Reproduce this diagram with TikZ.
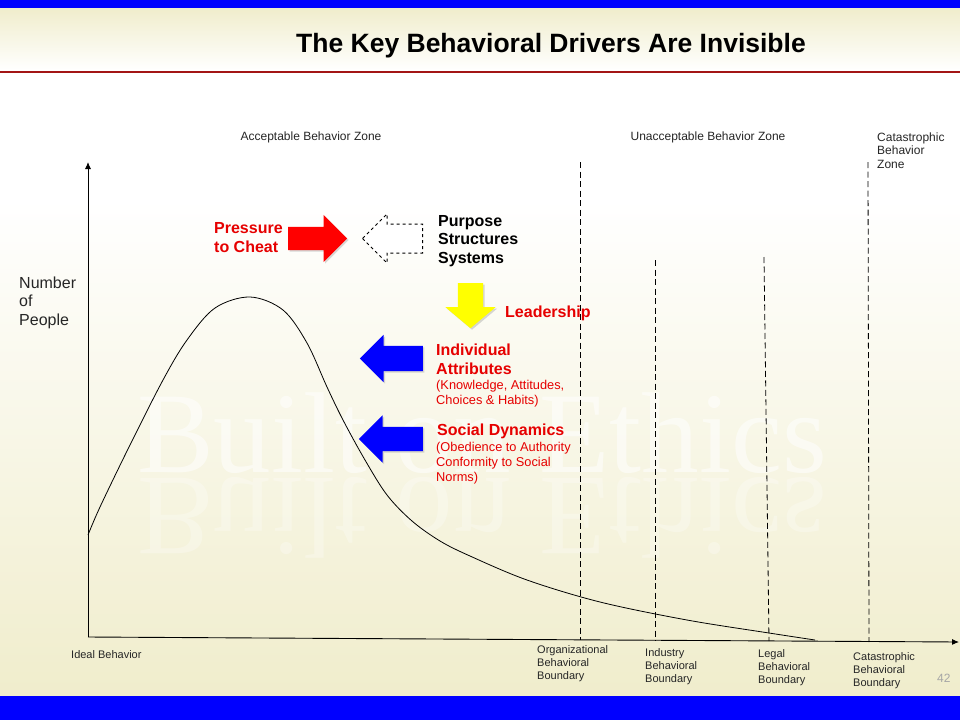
\documentclass[tikz,border=0pt]{standalone}
\usepackage{fontspec}
\setmainfont{Liberation Sans}
\newfontfamily\markfont{Liberation Serif}
\usepackage{graphicx}
\usetikzlibrary{arrows.meta,shapes.arrows,shadows}
\definecolor{SlideBlue}{HTML}{0000FF}
\definecolor{SlideRed}{HTML}{E60000}
\definecolor{SlideRule}{HTML}{A31515}
\definecolor{SlideCream}{HTML}{F0EDCC}
\definecolor{SlideText}{HTML}{262626}
\definecolor{SlideGray}{HTML}{A6A6A6}
\definecolor{SlideYellow}{HTML}{FFFF00}

\begin{document}
\begin{tikzpicture}[
  x=1pt,y=-1pt,>=Latex,
  axis/.style={-{Latex[length=7pt,width=6pt]},line width=0.9pt},
  bound/.style={dash pattern=on 6pt off 3.5pt,line width=0.8pt},
  small/.style={font=\fontsize{11}{13}\selectfont,text=SlideText,
    inner sep=0pt,align=left,anchor=base west},
  zone/.style={small,font=\fontsize{12}{13.5}\selectfont},
  driver/.style={font=\bfseries\fontsize{16}{19}\selectfont,text=SlideRed,
    inner sep=0pt,align=left,anchor=base west},
  detail/.style={driver,font=\fontsize{12.8}{14.6}\selectfont},
  block/.style={single arrow,draw=none,anchor=tail},
  shadowed/.style={block,drop shadow={opacity=0.3,shadow xshift=1.5pt,
    shadow yshift=-1.5pt}}
]
\useasboundingbox (0,0) rectangle (960,720);

% slide background
\fill[SlideBlue] (0,0) rectangle (960,8);
\shade[top color=SlideCream,bottom color=white] (0,8) rectangle (960,70.5);
\fill[SlideRule] (0,70.5) rectangle (960,72.5);
\fill[white] (0,72.5) rectangle (960,200);
\shade[top color=white,bottom color=SlideCream] (0,200) rectangle (960,696);
\fill[SlideBlue] (0,696) rectangle (960,720);

\node[font=\markfont\fontsize{115}{115}\selectfont,text=white,opacity=0.55,
  anchor=base,inner sep=0pt] (mark) at (482,472) {Built on Ethics};
\node[font=\markfont\fontsize{115}{115}\selectfont,text=white,opacity=0.28,
  anchor=base,inner sep=0pt] (markEcho) at (482,478)
  {\scalebox{1}[-1]{Built on Ethics}};

\node[font=\bfseries\fontsize{26.5}{30}\selectfont,anchor=base,inner sep=0pt]
  (title) at (551,52) {The Key Behavioral Drivers Are Invisible};

% axes, boundaries and distribution
\draw[axis] (88,637) -- (88,162);
\draw[axis] (88,637) -- (959,642);
\draw[bound] (580,162) -- (580,640);
\draw[bound] (655,260) -- (655,641);
\draw[bound] (764,257) -- (769,641);
\draw[bound] (868,162) -- (869,642);
\draw[line width=0.8pt] plot[smooth,tension=0.55] coordinates {
  (88,535) (100,507) (129,447) (163,380) (187,340) (215,308) (250,297)
  (283,310) (307,343) (327,387) (343,420) (365,460) (387,495) (412,521)
  (440,541) (470,556) (527,580) (600,602) (687,620) (769,633) (815,640)};

% multi-line labels sit on the baseline of their last line
\node[zone,anchor=base] (accZone) at (311,140) {Acceptable Behavior Zone};
\node[zone,anchor=base] (unaccZone) at (708,140) {Unacceptable Behavior Zone};
\node[zone] (catZone) at (877,168) {Catastrophic\\Behavior\\Zone};
\node[small,font=\fontsize{16}{18.5}\selectfont] (people) at (19,325)
  {Number\\of\\People};
\node[small] (ideal) at (71,658) {Ideal Behavior};
\node[small] (orgB) at (537,679) {Organizational\\Behavioral\\Boundary};
\node[small] (indB) at (645,682) {Industry\\Behavioral\\Boundary};
\node[small] (legB) at (758,683) {Legal\\Behavioral\\Boundary};
\node[small] (catB) at (853,686) {Catastrophic\\Behavioral\\Boundary};
\node[small,font=\fontsize{12}{14}\selectfont,text=SlideGray] (pageNo)
  at (937,682) {42};

% drivers
\node[shadowed,fill=red,inner sep=11.5pt,minimum height=59,
  single arrow head extend=12] (cheatArrow) at (288,238.5) {};
\node[block,fill=white,draw=black,dashed,line width=1pt,inner sep=14pt,
  shape border rotate=180,minimum height=60,
  single arrow head extend=10] (purposeArrow) at (423,238.5) {};
\node[shadowed,fill=SlideYellow,inner sep=12.5pt,shape border rotate=270,
  minimum height=45,single arrow head extend=12.5,single arrow tip angle=100]
  (leadArrow) at (470.5,283) {};
\node[shadowed,fill=SlideBlue,inner sep=12.5pt,shape border rotate=180,
  minimum height=63,single arrow head extend=11] (indivArrow) at (423,358.5) {};
\node[shadowed,fill=SlideBlue,inner sep=12pt,shape border rotate=180,
  minimum height=64,single arrow head extend=11.5] (socialArrow) at (423,439) {};

\node[driver] (pressure) at (214,252) {Pressure\\to Cheat};
\node[driver,text=black,font=\bfseries\fontsize{16}{18.5}\selectfont]
  (purpose) at (438,263) {Purpose\\Structures\\Systems};
\node[driver] (leadership) at (505,317) {Leadership};
\node[driver] (indiv) at (436,374) {Individual\\Attributes};
\node[detail] (indivNote) at (436,404)
  {(Knowledge, Attitudes,\\Choices \& Habits)};
\node[driver] (social) at (437,435) {Social Dynamics};
\node[detail] (socialNote) at (436,481)
  {(Obedience to Authority\\Conformity to Social\\Norms)};

\end{tikzpicture}
\end{document}
